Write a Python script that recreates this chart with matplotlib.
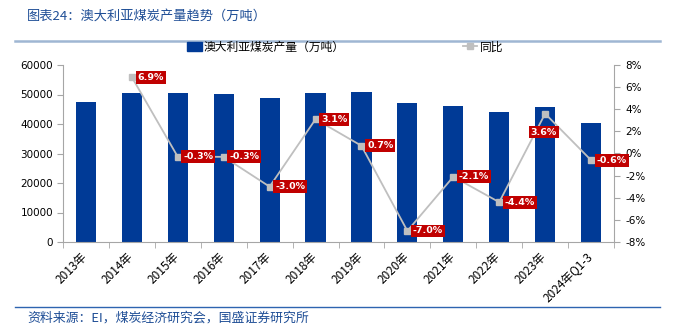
import matplotlib
matplotlib.use("Agg")
import matplotlib.pyplot as plt
from matplotlib.lines import Line2D
from matplotlib.patches import Patch
import matplotlib.transforms as mtransforms
import numpy as np

plt.rcParams['font.family'] = ['Noto Sans CJK SC', 'DejaVu Sans']

categories = ["2013年", "2014年", "2015年", "2016年", "2017年", "2018年", "2019年",
              "2020年", "2021年", "2022年", "2023年", "2024年Q1-3"]
production = [47400, 50600, 50400, 50300, 48700, 50400, 50750, 47100, 46200, 44200, 45700, 40200]
yoy = [None, 6.9, -0.3, -0.3, -3.0, 3.1, 0.7, -7.0, -2.1, -4.4, 3.6, -0.6]
yoy_labels = ["", "6.9%", "-0.3%", "-0.3%", "-3.0%", "3.1%", "0.7%", "-7.0%", "-2.1%", "-4.4%", "3.6%", "-0.6%"]
left_ticks = [0, 10000, 20000, 30000, 40000, 50000, 60000]
right_ticks = [-8, -6, -4, -2, 0, 2, 4, 6, 8]

title = "图表24：澳大利亚煤炭产量趋势（万吨）"
source = "资料来源：EI，煤炭经济研究会，国盛证券研究所"
bar_name = "澳大利亚煤炭产量（万吨）"
line_name = "同比"

bar_color = "#003A96"
line_color = "#BFBFBF"
label_bg = "#C00000"
axis_gray = "#A6A6A6"

fig = plt.figure(figsize=(6.73, 3.32), dpi=100)
ax = fig.add_axes([63/673, 1 - 242/332, (614-63)/673, (242-65)/332])
x = np.arange(len(categories))
ax.bar(x, production, width=0.44, color=bar_color, zorder=2)
ax.set_xlim(-0.5, len(categories) - 0.5)
ax.set_ylim(0, 60000)
ax.set_yticks(left_ticks)
ax.set_yticklabels([str(t) for t in left_ticks], fontsize=7.5, family=['DejaVu Sans'])
ax.set_xticks(x)
ax.set_xticklabels(categories, rotation=45, ha='right', rotation_mode='anchor', fontsize=8.5)
ax.tick_params(axis='x', length=0, pad=6)
shift = mtransforms.ScaledTranslation(-5/100, 0, fig.dpi_scale_trans)
for lbl in ax.get_xticklabels():
    lbl.set_transform(lbl.get_transform() + shift)
ax.set_xticks(np.arange(-0.5, len(categories)), minor=True)
ax.tick_params(axis='x', which='minor', length=4, color=axis_gray, direction='out')
ax.tick_params(axis='y', length=4, color=axis_gray, pad=3)
for s in ['top', 'right']:
    ax.spines[s].set_visible(False)
for s in ['left', 'bottom']:
    ax.spines[s].set_color(axis_gray)
    ax.spines[s].set_linewidth(0.8)

ax2 = ax.twinx()
xs = [i for i, v in enumerate(yoy) if v is not None]
ys = [v for v in yoy if v is not None]
ax2.plot(xs, ys, color=line_color, lw=1.3, marker='s', markersize=5,
         markerfacecolor=line_color, markeredgecolor=line_color, zorder=3)
ax2.set_ylim(-8, 8)
ax2.set_yticks(right_ticks)
ax2.set_yticklabels([f"{t}%" for t in right_ticks], fontsize=7.5, family=['DejaVu Sans'])
ax2.tick_params(axis='y', length=4, color=axis_gray, pad=4)
for s in ['top', 'left', 'bottom']:
    ax2.spines[s].set_visible(False)
ax2.spines['right'].set_color(axis_gray)
ax2.spines['right'].set_linewidth(0.8)

for i, v in enumerate(yoy):
    if v is None:
        continue
    if categories[i] == "2023年":
        xy_off, ha, va = (-1, -10), 'center', 'top'
    else:
        xy_off, ha, va = (4, 0), 'left', 'center'
    ax2.annotate(yoy_labels[i], (i, v), xytext=xy_off, textcoords='offset points',
                 ha=ha, va=va, fontsize=6.8, color='white', fontweight='bold',
                 family=['DejaVu Sans'],
                 bbox=dict(boxstyle='square,pad=0.2', fc=label_bg, ec='none'), zorder=5)

# legend
handles = [Patch(facecolor=bar_color, edgecolor=bar_color),
           Line2D([0], [0], color=line_color, lw=1.3, marker='s', markersize=4)]
fig.legend(handles, [bar_name, line_name], loc='center', bbox_to_anchor=(0.513, 1 - 47/332),
           ncol=2, frameon=False, fontsize=8.5, columnspacing=10, handlelength=1.2,
           handletextpad=0.2)

# title, rules, source
fig.text(27/673, 1 - 16/332, title, fontsize=9.5, color="#1F4E96", va='center', ha='left',
         style='italic')
fig.add_artist(Line2D([15/673, 1 - 13/673], [1 - 41/332, 1 - 41/332], color="#9FB6D3", lw=1.8))
fig.add_artist(Line2D([15/673, 1 - 13/673], [1 - 307/332, 1 - 307/332], color="#2E64B0", lw=1.0))
fig.text(27/673, 1 - 318/332, source, fontsize=9.3, color="#1F4E96", va='center', ha='left',
         style='italic')

fig.savefig("out.png", dpi=100)
